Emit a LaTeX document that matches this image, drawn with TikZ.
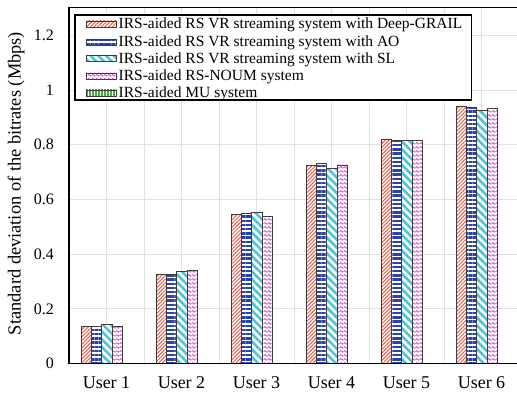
\documentclass[tikz,border=0pt]{standalone}
\usepackage{fontspec}
\setmainfont{Liberation Serif}
\usetikzlibrary{patterns.meta}

\definecolor{cred}{RGB}{232,95,75}
\definecolor{cblue}{RGB}{45,65,170}
\definecolor{ccyan}{RGB}{75,195,215}
\definecolor{cpink}{RGB}{200,85,195}
\definecolor{cgreen}{RGB}{60,175,60}
\definecolor{bordergray}{RGB}{60,60,60}
\definecolor{gridgray}{RGB}{225,225,225}

\pgfdeclarepattern{
  name=waves,
  type=uncolored,
  bottom left={\pgfpoint{0pt}{0pt}},
  top right={\pgfpoint{4pt}{4pt}},
  tile size={\pgfpoint{4pt}{4pt}},
  code={
    \pgfsetlinewidth{1pt}
    \pgfpathmoveto{\pgfpoint{0pt}{2pt}}
    \pgfpathcurveto{\pgfpoint{0.7pt}{3.3pt}}{\pgfpoint{1.3pt}{3.3pt}}{\pgfpoint{2pt}{2pt}}
    \pgfpathcurveto{\pgfpoint{2.7pt}{0.7pt}}{\pgfpoint{3.3pt}{0.7pt}}{\pgfpoint{4pt}{2pt}}
    \pgfusepath{stroke}
  }
}

\tikzset{
  barbase/.style={draw=bordergray, line width=0.8pt, preaction={fill=white}},
  sA/.style={barbase, pattern={Lines[angle=45,distance=2.6pt,line width=1pt]}, pattern color=cred},
  sB/.style={barbase, pattern={Lines[angle=0,distance=4.2pt,line width=2.3pt]}, pattern color=cblue},
  sC/.style={barbase, pattern={Lines[angle=-45,distance=5.5pt,line width=2.5pt]}, pattern color=ccyan},
  sD/.style={barbase, pattern=waves, pattern color=cpink},
  sE/.style={barbase, pattern={Lines[angle=90,distance=3pt,line width=1.8pt]}, pattern color=cgreen},
  gridline/.style={draw=gridgray, line width=0.8pt},
  axisline/.style={draw=black, line width=1.5pt},
  ticklabel/.style={anchor=east, inner sep=0pt, font=\fontsize{16}{19}\selectfont},
  userlabel/.style={anchor=base, inner sep=0pt, font=\fontsize{18}{22}\selectfont},
  leglabel/.style={anchor=base west, inner sep=0pt, font=\fontsize{15.5}{18}\selectfont},
  legbox/.style={draw=black, line width=1.5pt, fill=white},
}

\begin{document}
\begin{tikzpicture}[x=1pt,y=1pt]
\clip (0,0) rectangle (517,393);

% grid
\foreach \v in {0.2,0.4,0.6,0.8,1.0,1.2}{
  \draw[gridline] (69,{29.5+273.5*\v}) -- (517,{29.5+273.5*\v});
}
\foreach \i in {1,...,11}{
  \draw[gridline] ({69+37.5*\i},29.5) -- ({69+37.5*\i},385.5);
}

% bars
\foreach \k/\a/\b/\c/\d in {1/0.134/0.137/0.144/0.137,
                             2/0.327/0.324/0.336/0.340,
                             3/0.545/0.549/0.551/0.539,
                             4/0.723/0.732/0.714/0.726,
                             5/0.820/0.814/0.817/0.815,
                             6/0.941/0.937/0.924/0.932}{
  \pgfmathsetmacro{\xs}{81+75*(\k-1)}
  \draw[sA] (\xs,29.5) rectangle ({\xs+10.4},{29.5+273.5*\a});
  \draw[sB] ({\xs+10.4},29.5) rectangle ({\xs+20.8},{29.5+273.5*\b});
  \draw[sC] ({\xs+20.8},29.5) rectangle ({\xs+31.2},{29.5+273.5*\c});
  \draw[sD] ({\xs+31.2},29.5) rectangle ({\xs+41.6},{29.5+273.5*\d});
}

% axes / frame
\draw[axisline] (69,385.5) -- (69,29.5) -- (517,29.5);
\draw[axisline] (68.25,385.5) -- (517,385.5);

% legend
\draw[legbox] (75,293) rectangle (471.7,378);
\draw[sA] (86,366) rectangle (116.7,372);
\draw[sB] (86,348) rectangle (116.7,354);
\draw[sC] (86,331.5) rectangle (116.7,337.5);
\draw[sD] (86,314) rectangle (116.7,320);
\draw[sE] (86,297) rectangle (116.7,303);
\node[leglabel] (leg1) at (118.5,364) {IRS-aided RS VR streaming system with Deep-GRAIL};
\node[leglabel] (leg2) at (118.5,346) {IRS-aided RS VR streaming system with AO};
\node[leglabel] (leg3) at (118.5,329.5) {IRS-aided RS VR streaming system with SL};
\node[leglabel] (leg4) at (118.5,312) {IRS-aided RS-NOUM system};
\node[leglabel] (leg5) at (118.5,295) {IRS-aided MU system};

% tick labels
\node[ticklabel] (t0) at (54,29.5) {0};
\node[ticklabel] (t1) at (54,84.2) {0.2};
\node[ticklabel] (t2) at (54,138.9) {0.4};
\node[ticklabel] (t3) at (54,193.6) {0.6};
\node[ticklabel] (t4) at (54,248.3) {0.8};
\node[ticklabel] (t5) at (54,303) {1};
\node[ticklabel] (t6) at (54,357.7) {1.2};

% user labels
\foreach \k in {1,...,6}{
  \node[userlabel] (u\k) at ({106.5+75*(\k-1)},4) {User \k};
}

% y label
\node[rotate=90, inner sep=0pt, font=\fontsize{18.4}{22}\selectfont] (ylabel) at (16,209.5) {Standard deviation of the bitrates (Mbps)};
\end{tikzpicture}
\end{document}
